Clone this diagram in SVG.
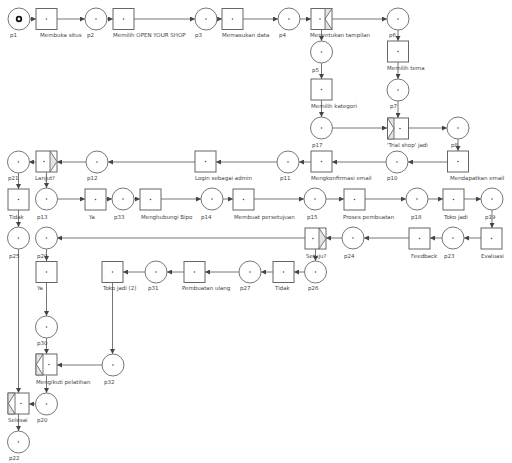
<svg xmlns="http://www.w3.org/2000/svg" width="512" height="463" viewBox="0 0 512 463">
  <defs>
    <marker id="arr" markerWidth="5" markerHeight="5" refX="5" refY="2.5" orient="auto" markerUnits="userSpaceOnUse">
      <path d="M0,0 L5,2.5 L0,5 z" fill="#444"/>
    </marker>
    <circle id="dot" r="0.8" fill="#555"/>
  </defs>
  <style>
    .pl { fill: #fff; stroke: #777; stroke-width: 1; }
    .tr { fill: #fff; stroke: #666; stroke-width: 1; }
    .dec { fill: #e4e4e4; stroke: #666; stroke-width: 0.9; }
    .lbl { font-family: "DejaVu Sans", "Liberation Sans", sans-serif; font-size: 5.5px; fill: #444; }
    .cn path { fill: none; stroke: #777; stroke-width: 1; marker-end: url(#arr); }
  </style>
  <rect width="512" height="463" fill="#fff"/>

  <!-- connectors -->
  <g id="connectors" class="cn">
    <path d="M30,19 L36,19"/>
    <path d="M57,19 L85,19"/>
    <path d="M107,19 L113,19"/>
    <path d="M134,19 L195,19"/>
    <path d="M217,19 L222,19"/>
    <path d="M243,19 L278,19"/>
    <path d="M300,19 L311,19"/>
    <path d="M332,19 L387,19"/>
    <path d="M321.5,29 L321.5,41"/>
    <path d="M321.5,63 L321.5,79"/>
    <path d="M398,30 L398,41"/>
    <path d="M398,62 L398,79"/>
    <path d="M321.5,100 L321.5,117"/>
    <path d="M398,101 L398,118"/>
    <path d="M332,128 L387,128"/>
    <path d="M408,128 L447,128"/>
    <path d="M458,139 L458,151"/>
    <path d="M447,162 L408,162"/>
    <path d="M386,162 L332,162"/>
    <path d="M311,162 L299,162"/>
    <path d="M277,162 L216,162"/>
    <path d="M195,162 L108,162"/>
    <path d="M86,162 L57,162"/>
    <path d="M36,162 L29,162"/>
    <path d="M46.5,172 L46.5,188"/>
    <path d="M18.5,173 L18.5,189"/>
    <path d="M18.5,210 L18.5,227"/>
    <path d="M18.5,249 L18.5,393"/>
    <path d="M57,199 L85,199"/>
    <path d="M106,199 L112,199"/>
    <path d="M134,199 L140,199"/>
    <path d="M161,199 L201,199"/>
    <path d="M223,199 L233,199"/>
    <path d="M254,199 L304,199"/>
    <path d="M326,199 L344,199"/>
    <path d="M365,199 L406,199"/>
    <path d="M428,199 L443,199"/>
    <path d="M464,199 L481,199"/>
    <path d="M492,210 L492,228"/>
    <path d="M481,238 L464,238"/>
    <path d="M442,238 L430,238"/>
    <path d="M409,238 L364,238"/>
    <path d="M342,238 L326,238"/>
    <path d="M305,238 L57,238"/>
    <path d="M315.5,248 L315.5,261"/>
    <path d="M304,272 L294,272"/>
    <path d="M273,272 L261,272"/>
    <path d="M239,272 L205,272"/>
    <path d="M184,272 L167,272"/>
    <path d="M145,272 L123,272"/>
    <path d="M112.5,282 L112.5,354"/>
    <path d="M46.5,249 L46.5,261"/>
    <path d="M46.5,282 L46.5,316"/>
    <path d="M46.5,338 L46.5,354"/>
    <path d="M102,365 L57,365"/>
    <path d="M46.5,376 L46.5,393"/>
    <path d="M35,404 L29,404"/>
    <path d="M18.5,414 L18.5,431"/>
  </g>

  <!-- places -->
  <g id="p1"><circle class="pl" cx="19" cy="19" r="11"/><circle cx="19" cy="19" r="2.3" fill="none" stroke="#111" stroke-width="1.8"/><text class="lbl" x="10" y="37">p1</text></g>
  <g id="p2"><circle class="pl" cx="96" cy="19" r="11"/><use href="#dot" x="96" y="19"/><text class="lbl" x="87" y="37">p2</text></g>
  <g id="p3"><circle class="pl" cx="206" cy="19" r="11"/><use href="#dot" x="206" y="19"/><text class="lbl" x="195" y="37">p3</text></g>
  <g id="p4"><circle class="pl" cx="289" cy="19" r="11"/><use href="#dot" x="289" y="19"/><text class="lbl" x="279" y="37">p4</text></g>
  <g id="p6"><circle class="pl" cx="398" cy="19" r="11"/><use href="#dot" x="398" y="19"/><text class="lbl" x="389" y="37">p6</text></g>
  <g id="p5"><circle class="pl" cx="321.5" cy="52" r="11"/><use href="#dot" x="321.5" y="52"/><text class="lbl" x="312" y="72">p5</text></g>
  <g id="p7"><circle class="pl" cx="398" cy="90" r="11"/><use href="#dot" x="398" y="90"/><text class="lbl" x="390" y="108">p7</text></g>
  <g id="p17"><circle class="pl" cx="321.5" cy="128" r="11"/><use href="#dot" x="321.5" y="128"/><text class="lbl" x="312" y="147">p17</text></g>
  <g id="p8"><circle class="pl" cx="458" cy="128" r="11"/><use href="#dot" x="458" y="128"/><text class="lbl" x="451" y="147">p8</text></g>
  <g id="p10"><circle class="pl" cx="397" cy="162" r="11"/><use href="#dot" x="397" y="162"/><text class="lbl" x="387" y="180">p10</text></g>
  <g id="p11"><circle class="pl" cx="288" cy="162" r="11"/><use href="#dot" x="288" y="162"/><text class="lbl" x="280" y="180">p11</text></g>
  <g id="p12"><circle class="pl" cx="97" cy="162" r="11"/><use href="#dot" x="97" y="162"/><text class="lbl" x="87" y="180">p12</text></g>
  <g id="p21"><circle class="pl" cx="18.5" cy="162" r="11"/><use href="#dot" x="18.5" y="162"/><text class="lbl" x="8" y="180">p21</text></g>
  <g id="p13"><circle class="pl" cx="46.5" cy="199" r="11"/><use href="#dot" x="46.5" y="199"/><text class="lbl" x="37" y="219">p13</text></g>
  <g id="p33"><circle class="pl" cx="123" cy="199" r="11"/><use href="#dot" x="123" y="199"/><text class="lbl" x="114" y="219">p33</text></g>
  <g id="p14"><circle class="pl" cx="212" cy="199" r="11"/><use href="#dot" x="212" y="199"/><text class="lbl" x="201" y="219">p14</text></g>
  <g id="p15"><circle class="pl" cx="315" cy="199" r="11"/><use href="#dot" x="315" y="199"/><text class="lbl" x="307" y="219">p15</text></g>
  <g id="p18"><circle class="pl" cx="417" cy="199" r="11"/><use href="#dot" x="417" y="199"/><text class="lbl" x="411" y="219">p18</text></g>
  <g id="p19"><circle class="pl" cx="492" cy="199" r="11"/><use href="#dot" x="492" y="199"/><text class="lbl" x="485" y="219">p19</text></g>
  <g id="p23"><circle class="pl" cx="453" cy="238" r="11"/><use href="#dot" x="453" y="238"/><text class="lbl" x="444" y="258">p23</text></g>
  <g id="p24"><circle class="pl" cx="353" cy="238" r="11"/><use href="#dot" x="353" y="238"/><text class="lbl" x="344" y="258">p24</text></g>
  <g id="p29"><circle class="pl" cx="46.5" cy="238" r="11"/><use href="#dot" x="46.5" y="238"/><text class="lbl" x="37" y="258">p29</text></g>
  <g id="p25"><circle class="pl" cx="18.5" cy="238" r="11"/><use href="#dot" x="18.5" y="238"/><text class="lbl" x="9" y="258">p25</text></g>
  <g id="p26"><circle class="pl" cx="315.5" cy="272" r="11"/><use href="#dot" x="315.5" y="272"/><text class="lbl" x="308" y="290">p26</text></g>
  <g id="p27"><circle class="pl" cx="250" cy="272" r="11"/><use href="#dot" x="250" y="272"/><text class="lbl" x="240" y="290">p27</text></g>
  <g id="p31"><circle class="pl" cx="156" cy="272" r="11"/><use href="#dot" x="156" y="272"/><text class="lbl" x="148" y="290">p31</text></g>
  <g id="p30"><circle class="pl" cx="46.5" cy="327" r="11"/><use href="#dot" x="46.5" y="327"/><text class="lbl" x="37" y="345">p30</text></g>
  <g id="p32"><circle class="pl" cx="113" cy="365" r="11"/><use href="#dot" x="113" y="365"/><text class="lbl" x="104" y="384">p32</text></g>
  <g id="p20"><circle class="pl" cx="46.5" cy="404" r="11"/><use href="#dot" x="46.5" y="404"/><text class="lbl" x="37" y="422">p20</text></g>
  <g id="p22"><circle class="pl" cx="18.5" cy="442" r="11"/><use href="#dot" x="18.5" y="442"/><text class="lbl" x="9" y="460">p22</text></g>

  <!-- transitions -->
  <g id="t-membuka-situs"><rect class="tr" x="36" y="8.5" width="21" height="21"/><use href="#dot" x="46.5" y="19"/><text class="lbl" x="40" y="37">Membuka situs</text></g>
  <g id="t-memilih-open"><rect class="tr" x="113" y="8.5" width="21" height="21"/><use href="#dot" x="123.5" y="19"/><text class="lbl" x="113" y="37">Memilih OPEN YOUR SHOP</text></g>
  <g id="t-memasukan-data"><rect class="tr" x="222" y="8.5" width="21" height="21"/><use href="#dot" x="232.5" y="19"/><text class="lbl" x="222" y="37">Memasukan data</text></g>
  <g id="t-menentukan-tampilan"><rect class="tr" x="311" y="8.5" width="21" height="21"/><path class="dec" d="M325,8.5 L332,8.5 L325,19 L332,29.5 L325,29.5 z"/><use href="#dot" x="320" y="19"/><text class="lbl" x="310" y="37">Menentukan tampilan</text></g>
  <g id="t-memilih-tema"><rect class="tr" x="387.5" y="41" width="21" height="21"/><use href="#dot" x="398" y="51.5"/><text class="lbl" x="387" y="70">Memilih tema</text></g>
  <g id="t-memilih-kategori"><rect class="tr" x="311" y="79" width="21" height="21"/><use href="#dot" x="321.5" y="89.5"/><text class="lbl" x="311" y="108">Memilih kategori</text></g>
  <g id="t-trial-shop"><rect class="tr" x="387.5" y="118" width="21" height="21"/><path class="dec" d="M387.5,118 L394,118 L394,139 L387.5,139 L394,128.5 z"/><use href="#dot" x="400" y="128.5"/><text class="lbl" x="387" y="147">'Trial shop' jadi</text></g>
  <g id="t-mendapatkan-email"><rect class="tr" x="447.5" y="151" width="21" height="21"/><use href="#dot" x="458" y="161.5"/><text class="lbl" x="450" y="180">Mendapatkan email</text></g>
  <g id="t-mengkonfirmasi-email"><rect class="tr" x="311" y="151" width="21" height="21"/><use href="#dot" x="321.5" y="161.5"/><text class="lbl" x="311" y="180">Mengkonfirmasi email</text></g>
  <g id="t-login-admin"><rect class="tr" x="195" y="151" width="21" height="21"/><use href="#dot" x="205.5" y="161.5"/><text class="lbl" x="195" y="180">Login sebagai admin</text></g>
  <g id="t-lanjut"><rect class="tr" x="36" y="151" width="21" height="21"/><path class="dec" d="M50,151 L57,161.5 L50,172 z"/><use href="#dot" x="44" y="161.5"/><text class="lbl" x="35" y="180">Lanjut?</text></g>
  <g id="t-tidak-1"><rect class="tr" x="8" y="189" width="21" height="21"/><use href="#dot" x="18.5" y="199.5"/><text class="lbl" x="9" y="219">Tidak</text></g>
  <g id="t-ya-1"><rect class="tr" x="85" y="189" width="21" height="21"/><use href="#dot" x="95.5" y="199.5"/><text class="lbl" x="89" y="219">Ya</text></g>
  <g id="t-menghubungi-bipo"><rect class="tr" x="140" y="189" width="21" height="21"/><use href="#dot" x="150.5" y="199.5"/><text class="lbl" x="141" y="219">Menghubungi Bipo</text></g>
  <g id="t-membuat-persetujuan"><rect class="tr" x="233" y="189" width="21" height="21"/><use href="#dot" x="243.5" y="199.5"/><text class="lbl" x="234" y="219">Membuat persetujuan</text></g>
  <g id="t-proses-pembuatan"><rect class="tr" x="344" y="189" width="21" height="21"/><use href="#dot" x="354.5" y="199.5"/><text class="lbl" x="343" y="219">Proses pembuatan</text></g>
  <g id="t-toko-jadi"><rect class="tr" x="443" y="189" width="21" height="21"/><use href="#dot" x="453.5" y="199.5"/><text class="lbl" x="444" y="219">Toko jadi</text></g>
  <g id="t-evaluasi"><rect class="tr" x="481" y="228" width="21" height="21"/><use href="#dot" x="491.5" y="238.5"/><text class="lbl" x="481" y="258">Evaluasi</text></g>
  <g id="t-feedback"><rect class="tr" x="409" y="228" width="21" height="21"/><use href="#dot" x="419.5" y="238.5"/><text class="lbl" x="411" y="258">Feedback</text></g>
  <g id="t-setuju"><rect class="tr" x="305" y="228" width="21" height="21"/><path class="dec" d="M319,228 L326,238.5 L319,249 z"/><use href="#dot" x="313" y="238.5"/><text class="lbl" x="306" y="258">Setuju?</text></g>
  <g id="t-tidak-2"><rect class="tr" x="273" y="261.5" width="21" height="21"/><use href="#dot" x="283.5" y="272"/><text class="lbl" x="275" y="290">Tidak</text></g>
  <g id="t-pembuatan-ulang"><rect class="tr" x="184" y="261.5" width="21" height="21"/><use href="#dot" x="194.5" y="272"/><text class="lbl" x="182" y="290">Pembuatan ulang</text></g>
  <g id="t-toko-jadi-2"><rect class="tr" x="102" y="261.5" width="21" height="21"/><use href="#dot" x="112.5" y="272"/><text class="lbl" x="103" y="290">Toko jadi (2)</text></g>
  <g id="t-ya-2"><rect class="tr" x="36" y="261.5" width="21" height="21"/><use href="#dot" x="46.5" y="272"/><text class="lbl" x="37" y="290">Ya</text></g>
  <g id="t-mengikuti-pelatihan"><rect class="tr" x="36" y="354" width="21" height="21"/><path class="dec" d="M36,354 L43,354 L36.5,364.5 L43,375 L36,375 z"/><path class="dec" d="M43,354 L43,375" fill="none"/><use href="#dot" x="49" y="364.5"/><text class="lbl" x="36" y="384">Mengikuti pelatihan</text></g>
  <g id="t-selesai"><rect class="tr" x="8" y="393" width="21" height="21"/><path class="dec" d="M8,393 L15,393 L8.5,403.5 L15,414 L8,414 z"/><path class="dec" d="M15,393 L15,414" fill="none"/><use href="#dot" x="21" y="403.5"/><text class="lbl" x="8" y="422">Selesai</text></g>
</svg>
